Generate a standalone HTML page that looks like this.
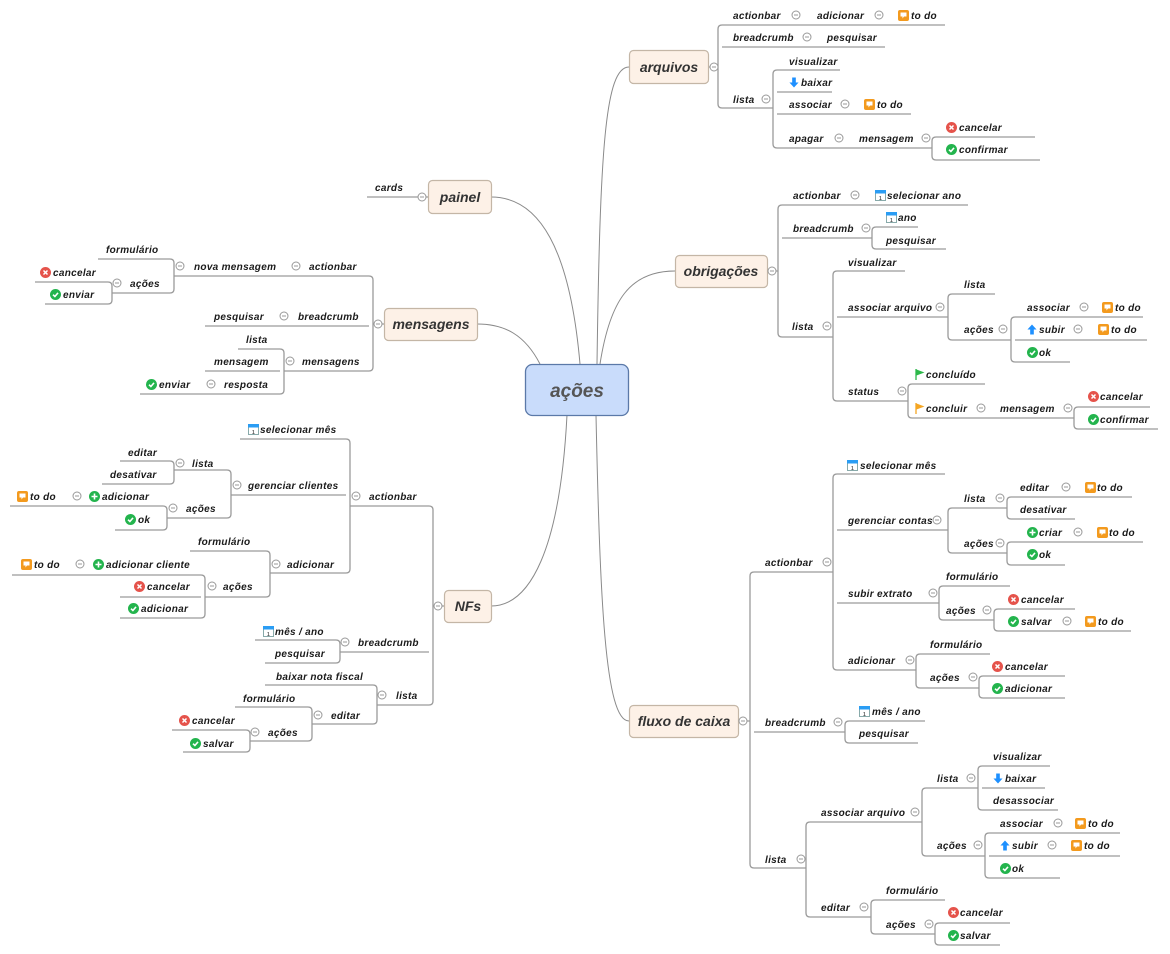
<!DOCTYPE html>
<html><head><meta charset="utf-8"><style>
html,body{margin:0;padding:0;background:#fff;width:1170px;height:954px;overflow:hidden}
svg text{font-family:"Liberation Sans","DejaVu Sans",sans-serif;font-style:italic;font-weight:bold;font-size:10px;fill:#1a1a1a;letter-spacing:.3px}
svg text.n{font-size:14px;fill:#333;text-anchor:middle;letter-spacing:0}
svg text.c{font-size:19px;fill:#555;text-anchor:middle;font-weight:bold;letter-spacing:0}
.l{fill:none;stroke:#9a9a9a;stroke-width:1.3}
.cv{fill:none;stroke:#8a8a8a;stroke-width:1}
</style></head><body>
<svg width="1170" height="954" viewBox="0 0 1170 954" xmlns="http://www.w3.org/2000/svg">
<defs>
<symbol id="m" viewBox="0 0 10 10"><circle cx="5" cy="5" r="4" fill="#fff" stroke="#999" stroke-width="1"/><path d="M3 5H7" stroke="#999" stroke-width="1"/></symbol>
<symbol id="td" viewBox="0 0 11 11"><rect width="11" height="11" rx="2" fill="#f39a1e"/><path d="M2.5 2.5H8.5V6.5H6L4.5 8.5V6.5H2.5Z" fill="#fff"/></symbol>
<symbol id="x" viewBox="0 0 11 11"><circle cx="5.5" cy="5.5" r="5.5" fill="#e5534b"/><path d="M3.5 3.5L7.5 7.5M7.5 3.5L3.5 7.5" stroke="#fff" stroke-width="1.5"/></symbol>
<symbol id="ok" viewBox="0 0 11 11"><circle cx="5.5" cy="5.5" r="5.5" fill="#23b44d"/><path d="M3 5.7L4.9 7.5L8 3.9" stroke="#fff" stroke-width="1.6" fill="none"/></symbol>
<symbol id="pl" viewBox="0 0 11 11"><circle cx="5.5" cy="5.5" r="5.5" fill="#23b44d"/><path d="M5.5 2.5V8.5M2.5 5.5H8.5" stroke="#fff" stroke-width="1.6"/></symbol>
<symbol id="cal" viewBox="0 0 11 11"><rect x=".5" y=".5" width="10" height="10" fill="#fff" stroke="#8aa"/><rect x="0" y="0" width="11" height="3.5" fill="#2a9df4"/><text x="4" y="10" style="font-size:5px;font-style:normal;fill:#555">1</text></symbol>
<symbol id="dn" viewBox="0 0 11 11"><path d="M3.5 0H7.5V5.5H10.5L5.5 11L.5 5.5H3.5Z" fill="#1e90ff"/></symbol>
<symbol id="up" viewBox="0 0 11 11"><path d="M3.5 11H7.5V5.5H10.5L5.5 0L.5 5.5H3.5Z" fill="#1e90ff"/></symbol>
<symbol id="fg" viewBox="0 0 11 11"><path d="M1 0V11" stroke="#2cb84a" stroke-width="1.3"/><path d="M1.5 .5L9.5 3.5L1.5 6.5Z" fill="#2cb84a"/></symbol>
<symbol id="fo" viewBox="0 0 11 11"><path d="M1 0V11" stroke="#f5a623" stroke-width="1.3"/><path d="M1.5 .5L9.5 3.5L1.5 6.5Z" fill="#f5a623"/></symbol>
</defs>

<!-- center curves -->
<path class="cv" d="M597 364C600 150 605 67 629 67"/>
<path class="cv" d="M600 364C610 300 630 271 675 271"/>
<path class="cv" d="M596 415C600 600 605 721 629 721"/>
<path class="cv" d="M567 415C560 550 530 606 491 606"/>
<path class="cv" d="M540 364C525 335 505 324 477 324"/>
<path class="cv" d="M580 364C570 250 540 197 491 197"/>

<!-- lines -->
<path class="l" d="
M708 67H718 M722 25Q718 25 718 29V104Q718 108 722 108 M722 25H945 M722 47H885 M722 108H773
M777 70Q773 70 773 74V144Q773 148 777 148 M777 70H840 M777 92H832 M777 114H911 M777 148H932
M936 137Q932 137 932 141V156Q932 160 936 160 M936 137H1035 M936 160H1040
M428 197H367
M384 324H373 M369 276Q373 276 373 280V367Q373 371 369 371 M369 276H174
M170 259Q174 259 174 263V289Q174 293 170 293 M170 259H98 M170 293H112
M108 282Q112 282 112 286V300Q112 304 108 304 M108 282H35 M108 304H45
M369 326H205 M369 371H284
M280 349Q284 349 284 353V390Q284 394 280 394 M280 349H238 M280 371H205 M280 394H140
M444 606H433 M429 506Q433 506 433 510V701Q433 705 429 705
M429 506H350 M346 439Q350 439 350 443V569Q350 573 346 573
M346 439H240 M346 495H231 M227 470Q231 470 231 474V514Q231 518 227 518
M227 470H174 M170 461Q174 461 174 465V480Q174 484 170 484 M170 461H120 M170 484H102
M227 518H167 M163 506Q167 506 167 510V526Q167 530 163 530 M163 506H10 M163 530H115
M346 573H270 M266 551Q270 551 270 555V593Q270 597 266 597 M266 551H190 M266 597H205
M201 575Q205 575 205 579V614Q205 618 201 618 M201 575H12 M201 597H120 M201 618H120
M429 652H340 M336 640Q340 640 340 644V659Q340 663 336 663 M336 640H255 M336 663H265
M429 705H377 M373 685Q377 685 377 689V720Q377 724 373 724 M373 685H265 M373 724H312
M308 707Q312 707 312 711V737Q312 741 308 741 M308 707H235 M308 741H250
M246 730Q250 730 250 734V748Q250 752 246 752 M246 730H172 M246 752H183
M767 271H778 M782 205Q778 205 778 209V333Q778 337 782 337
M782 205H968 M782 238H872 M876 227Q872 227 872 231V245Q872 249 876 249 M876 227H918 M876 249H946
M782 337H833 M837 271Q833 271 833 275V397Q833 401 837 401
M837 271H905 M837 317H948 M952 294Q948 294 948 298V336Q948 340 952 340 M952 294H995 M952 340H1011
M1015 317Q1011 317 1011 321V358Q1011 362 1015 362 M1015 317H1143 M1015 340H1147 M1015 362H1070
M837 401H908 M912 384Q908 384 908 388V414Q908 418 912 418 M912 384H985 M912 418H1074
M1078 407Q1074 407 1074 411V425Q1074 429 1078 429 M1078 407H1150 M1078 429H1158
M738 721H750 M754 572Q750 572 750 576V864Q750 868 754 868
M754 572H833 M837 474Q833 474 833 478V666Q833 670 837 670
M837 474H945 M837 530H948 M952 508Q948 508 948 512V549Q948 553 952 553
M952 508H1007 M1011 497Q1007 497 1007 501V515Q1007 519 1011 519 M1011 497H1132 M1011 519H1075
M952 553H1007 M1011 542Q1007 542 1007 546V561Q1007 565 1011 565 M1011 542H1143 M1011 565H1065
M837 603H939 M943 586Q939 586 939 590V616Q939 620 943 620 M943 586H1010 M943 620H994
M998 609Q994 609 994 613V627Q994 631 998 631 M998 609H1075 M998 631H1131
M837 670H916 M920 654Q916 654 916 658V684Q916 688 920 688 M920 654H990 M920 688H979
M983 676Q979 676 979 680V694Q979 698 983 698 M983 676H1065 M983 698H1065
M754 732H845 M849 721Q845 721 845 725V739Q845 743 849 743 M849 721H925 M849 743H918
M754 868H806 M810 822Q806 822 806 826V913Q806 917 810 917
M810 822H922 M926 788Q922 788 922 792V852Q922 856 926 856 M926 788H978
M982 766Q978 766 978 770V806Q978 810 982 810 M982 766H1050 M982 788H1045 M982 810H1058
M926 856H985 M989 833Q985 833 985 837V874Q985 878 989 878 M989 833H1120 M989 856H1120 M989 878H1060
M810 917H871 M875 900Q871 900 871 904V930Q871 934 875 934 M875 900H945 M875 934H935
M939 923Q935 923 935 927V941Q935 945 939 945 M939 923H1010 M939 945H1000
"/>

<!-- nodes -->
<rect x="525.5" y="364.5" width="103" height="51" rx="7" fill="#c9dcfb" stroke="#5b79a8" stroke-width="1.3"/>
<text class="c" x="577" y="397">ações</text>
<g fill="#fdf1e7" stroke="#c4b6a6" stroke-width="1.2">
<rect x="629.5" y="50.5" width="79" height="33" rx="4"/>
<rect x="675.5" y="255.5" width="92" height="32" rx="4"/>
<rect x="629.5" y="705.5" width="109" height="32" rx="4"/>
<rect x="444.5" y="590.5" width="47" height="32" rx="4"/>
<rect x="384.5" y="308.5" width="93" height="32" rx="4"/>
<rect x="428.5" y="180.5" width="63" height="33" rx="4"/>
</g>
<text class="n" x="669" y="72">arquivos</text>
<text class="n" x="721" y="276">obrigações</text>
<text class="n" x="684" y="726">fluxo de caixa</text>
<text class="n" x="468" y="611">NFs</text>
<text class="n" x="431" y="329">mensagens</text>
<text class="n" x="460" y="202">painel</text>

<!-- collapse circles -->
<g>
<use href="#m" x="709" y="62" width="10" height="10"/><use href="#m" x="791" y="10" width="10" height="10"/><use href="#m" x="874" y="10" width="10" height="10"/><use href="#m" x="802" y="32" width="10" height="10"/><use href="#m" x="761" y="94" width="10" height="10"/><use href="#m" x="840" y="99" width="10" height="10"/><use href="#m" x="834" y="133" width="10" height="10"/><use href="#m" x="921" y="133" width="10" height="10"/>
<use href="#m" x="417" y="192" width="10" height="10"/><use href="#m" x="373" y="319" width="10" height="10"/><use href="#m" x="291" y="261" width="10" height="10"/><use href="#m" x="175" y="261" width="10" height="10"/><use href="#m" x="112" y="278" width="10" height="10"/><use href="#m" x="279" y="311" width="10" height="10"/><use href="#m" x="285" y="356" width="10" height="10"/><use href="#m" x="206" y="379" width="10" height="10"/>
<use href="#m" x="433" y="601" width="10" height="10"/><use href="#m" x="351" y="491" width="10" height="10"/><use href="#m" x="232" y="480" width="10" height="10"/><use href="#m" x="175" y="458" width="10" height="10"/><use href="#m" x="168" y="503" width="10" height="10"/><use href="#m" x="72" y="491" width="10" height="10"/><use href="#m" x="271" y="559" width="10" height="10"/><use href="#m" x="207" y="581" width="10" height="10"/><use href="#m" x="75" y="559" width="10" height="10"/><use href="#m" x="340" y="637" width="10" height="10"/><use href="#m" x="377" y="690" width="10" height="10"/><use href="#m" x="313" y="710" width="10" height="10"/><use href="#m" x="250" y="727" width="10" height="10"/>
<use href="#m" x="767" y="266" width="10" height="10"/><use href="#m" x="850" y="190" width="10" height="10"/><use href="#m" x="861" y="223" width="10" height="10"/><use href="#m" x="822" y="321" width="10" height="10"/><use href="#m" x="935" y="302" width="10" height="10"/><use href="#m" x="998" y="324" width="10" height="10"/><use href="#m" x="1079" y="302" width="10" height="10"/><use href="#m" x="1073" y="324" width="10" height="10"/><use href="#m" x="897" y="386" width="10" height="10"/><use href="#m" x="976" y="403" width="10" height="10"/><use href="#m" x="1063" y="403" width="10" height="10"/>
<use href="#m" x="738" y="716" width="10" height="10"/><use href="#m" x="822" y="557" width="10" height="10"/><use href="#m" x="932" y="515" width="10" height="10"/><use href="#m" x="995" y="493" width="10" height="10"/><use href="#m" x="1061" y="482" width="10" height="10"/><use href="#m" x="995" y="538" width="10" height="10"/><use href="#m" x="1073" y="527" width="10" height="10"/><use href="#m" x="928" y="588" width="10" height="10"/><use href="#m" x="982" y="605" width="10" height="10"/><use href="#m" x="1062" y="616" width="10" height="10"/><use href="#m" x="905" y="655" width="10" height="10"/><use href="#m" x="968" y="672" width="10" height="10"/><use href="#m" x="833" y="717" width="10" height="10"/><use href="#m" x="796" y="854" width="10" height="10"/><use href="#m" x="910" y="807" width="10" height="10"/><use href="#m" x="966" y="773" width="10" height="10"/><use href="#m" x="973" y="840" width="10" height="10"/><use href="#m" x="1053" y="818" width="10" height="10"/><use href="#m" x="1047" y="840" width="10" height="10"/><use href="#m" x="859" y="902" width="10" height="10"/><use href="#m" x="924" y="919" width="10" height="10"/>
</g>

<!-- icons -->
<use href="#td" x="898" y="10" width="11" height="11"/><use href="#dn" x="789" y="77" width="10" height="11"/><use href="#td" x="864" y="99" width="11" height="11"/><use href="#x" x="946" y="122" width="11" height="11"/><use href="#ok" x="946" y="144" width="11" height="11"/>
<use href="#x" x="40" y="267" width="11" height="11"/><use href="#ok" x="50" y="289" width="11" height="11"/><use href="#ok" x="146" y="379" width="11" height="11"/>
<use href="#cal" x="248" y="424" width="11" height="11"/><use href="#pl" x="89" y="491" width="11" height="11"/><use href="#td" x="17" y="491" width="11" height="11"/><use href="#ok" x="125" y="514" width="11" height="11"/><use href="#pl" x="93" y="559" width="11" height="11"/><use href="#td" x="21" y="559" width="11" height="11"/><use href="#x" x="134" y="581" width="11" height="11"/><use href="#ok" x="128" y="603" width="11" height="11"/><use href="#cal" x="263" y="626" width="11" height="11"/><use href="#x" x="179" y="715" width="11" height="11"/><use href="#ok" x="190" y="738" width="11" height="11"/>
<use href="#cal" x="875" y="190" width="11" height="11"/><use href="#cal" x="886" y="212" width="11" height="11"/><use href="#td" x="1102" y="302" width="11" height="11"/><use href="#up" x="1027" y="324" width="10" height="11"/><use href="#td" x="1098" y="324" width="11" height="11"/><use href="#ok" x="1027" y="347" width="11" height="11"/><use href="#fg" x="915" y="369" width="11" height="11"/><use href="#fo" x="915" y="403" width="11" height="11"/><use href="#x" x="1088" y="391" width="11" height="11"/><use href="#ok" x="1088" y="414" width="11" height="11"/>
<use href="#cal" x="847" y="460" width="11" height="11"/><use href="#td" x="1085" y="482" width="11" height="11"/><use href="#pl" x="1027" y="527" width="11" height="11"/><use href="#td" x="1097" y="527" width="11" height="11"/><use href="#ok" x="1027" y="549" width="11" height="11"/><use href="#x" x="1008" y="594" width="11" height="11"/><use href="#ok" x="1008" y="616" width="11" height="11"/><use href="#td" x="1085" y="616" width="11" height="11"/><use href="#x" x="992" y="661" width="11" height="11"/><use href="#ok" x="992" y="683" width="11" height="11"/><use href="#cal" x="859" y="706" width="11" height="11"/><use href="#dn" x="993" y="773" width="10" height="11"/><use href="#td" x="1075" y="818" width="11" height="11"/><use href="#up" x="1000" y="840" width="10" height="11"/><use href="#td" x="1071" y="840" width="11" height="11"/><use href="#ok" x="1000" y="863" width="11" height="11"/><use href="#x" x="948" y="907" width="11" height="11"/><use href="#ok" x="948" y="930" width="11" height="11"/>

<!-- texts -->
<text x="733" y="19">actionbar</text><text x="817" y="19">adicionar</text><text x="911" y="19">to do</text>
<text x="733" y="41">breadcrumb</text><text x="827" y="41">pesquisar</text>
<text x="733" y="103">lista</text><text x="789" y="65">visualizar</text><text x="801" y="86">baixar</text><text x="789" y="108">associar</text><text x="877" y="108">to do</text>
<text x="789" y="142">apagar</text><text x="859" y="142">mensagem</text><text x="959" y="131">cancelar</text><text x="959" y="153">confirmar</text>

<text x="375" y="191">cards</text>
<text x="309" y="270">actionbar</text><text x="194" y="270">nova mensagem</text><text x="106" y="253">formulário</text><text x="130" y="287">ações</text><text x="53" y="276">cancelar</text><text x="63" y="298">enviar</text>
<text x="298" y="320">breadcrumb</text><text x="214" y="320">pesquisar</text>
<text x="302" y="365">mensagens</text><text x="246" y="343">lista</text><text x="214" y="365">mensagem</text><text x="224" y="388">resposta</text><text x="159" y="388">enviar</text>

<text x="369" y="500">actionbar</text><text x="260" y="433">selecionar mês</text><text x="248" y="489">gerenciar clientes</text>
<text x="192" y="467">lista</text><text x="128" y="456">editar</text><text x="110" y="478">desativar</text>
<text x="186" y="512">ações</text><text x="102" y="500">adicionar</text><text x="30" y="500">to do</text><text x="138" y="523">ok</text>
<text x="287" y="568">adicionar</text><text x="198" y="545">formulário</text><text x="223" y="590">ações</text><text x="106" y="568">adicionar cliente</text><text x="34" y="568">to do</text><text x="147" y="590">cancelar</text><text x="141" y="612">adicionar</text>
<text x="358" y="646">breadcrumb</text><text x="275" y="635">mês / ano</text><text x="275" y="657">pesquisar</text>
<text x="396" y="699">lista</text><text x="276" y="680">baixar nota fiscal</text><text x="331" y="719">editar</text><text x="243" y="702">formulário</text><text x="268" y="736">ações</text><text x="192" y="724">cancelar</text><text x="203" y="747">salvar</text>

<text x="793" y="199">actionbar</text><text x="887" y="199">selecionar ano</text>
<text x="793" y="232">breadcrumb</text><text x="898" y="221">ano</text><text x="886" y="244">pesquisar</text>
<text x="792" y="330">lista</text><text x="848" y="266">visualizar</text><text x="848" y="311">associar arquivo</text><text x="964" y="288">lista</text><text x="964" y="333">ações</text>
<text x="1027" y="311">associar</text><text x="1115" y="311">to do</text><text x="1039" y="333">subir</text><text x="1111" y="333">to do</text><text x="1039" y="356">ok</text>
<text x="848" y="395">status</text><text x="926" y="378">concluído</text><text x="926" y="412">concluir</text><text x="1000" y="412">mensagem</text><text x="1100" y="400">cancelar</text><text x="1100" y="423">confirmar</text>

<text x="765" y="566">actionbar</text><text x="860" y="469">selecionar mês</text><text x="848" y="524">gerenciar contas</text>
<text x="964" y="502">lista</text><text x="1020" y="491">editar</text><text x="1097" y="491">to do</text><text x="1020" y="513">desativar</text>
<text x="964" y="547">ações</text><text x="1039" y="536">criar</text><text x="1109" y="536">to do</text><text x="1039" y="558">ok</text>
<text x="848" y="597">subir extrato</text><text x="946" y="580">formulário</text><text x="946" y="614">ações</text><text x="1021" y="603">cancelar</text><text x="1021" y="625">salvar</text><text x="1098" y="625">to do</text>
<text x="848" y="664">adicionar</text><text x="930" y="648">formulário</text><text x="930" y="681">ações</text><text x="1005" y="670">cancelar</text><text x="1005" y="692">adicionar</text>
<text x="765" y="726">breadcrumb</text><text x="872" y="715">mês / ano</text><text x="859" y="737">pesquisar</text>
<text x="765" y="863">lista</text><text x="821" y="816">associar arquivo</text><text x="937" y="782">lista</text><text x="993" y="760">visualizar</text><text x="1005" y="782">baixar</text><text x="993" y="804">desassociar</text>
<text x="937" y="849">ações</text><text x="1000" y="827">associar</text><text x="1088" y="827">to do</text><text x="1012" y="849">subir</text><text x="1084" y="849">to do</text><text x="1012" y="872">ok</text>
<text x="821" y="911">editar</text><text x="886" y="894">formulário</text><text x="886" y="928">ações</text><text x="960" y="916">cancelar</text><text x="960" y="939">salvar</text>
</svg>
</body></html>
